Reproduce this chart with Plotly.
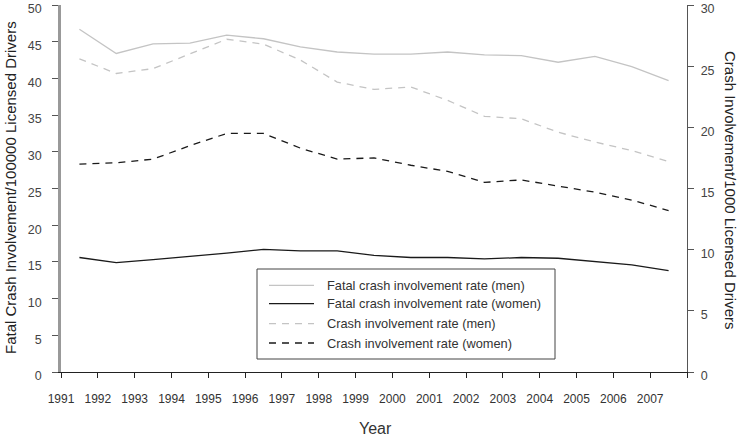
import plotly.graph_objects as go

years = [1991.5 + i for i in range(17)]
tick_years = list(range(1991, 2009))
tick_labels = [str(y) for y in range(1991, 2008)] + [""]

fatal_men = [46.7, 43.4, 44.7, 44.8, 45.9, 45.4, 44.3, 43.6, 43.3, 43.3, 43.6, 43.2, 43.1, 42.2, 43.0, 41.6, 39.7]
fatal_women = [15.6, 14.9, 15.3, 15.7, 16.2, 16.7, 16.5, 16.5, 15.9, 15.6, 15.6, 15.4, 15.6, 15.5, 15.1, 14.6, 13.8]
crash_men = [25.6, 24.4, 24.8, 26.0, 27.2, 26.8, 25.5, 23.7, 23.1, 23.3, 22.2, 20.9, 20.7, 19.6, 18.8, 18.1, 17.2]
crash_women = [17.0, 17.1, 17.4, 18.5, 19.5, 19.5, 18.3, 17.4, 17.5, 16.9, 16.4, 15.5, 15.7, 15.2, 14.7, 14.05, 13.2]

series_names = ["Fatal crash involvement rate (men)", "Fatal crash involvement rate (women)",
                "Crash involvement rate (men)", "Crash involvement rate (women)"]

FONT = "Liberation Sans"
LIGHT = "#c4c4c4"
DARK = "#1a1a1a"
DASH = "7px,6px"
styles = [dict(color=LIGHT, width=1.3), dict(color=DARK, width=1.3),
          dict(color=LIGHT, width=1.3, dash=DASH), dict(color=DARK, width=1.3, dash=DASH)]

W, H = 740, 437
L, R, T, B = 61, 53, 5, 65
PW, PH = W - L - R, H - T - B


def px_x(px):
    return (px - L) / PW


def px_y(py):
    return (H - B - py) / PH


fig = go.Figure()
for name, vals, st, ax in zip(series_names, [fatal_men, fatal_women, crash_men, crash_women],
                              styles, ["y", "y", "y2", "y2"]):
    fig.add_trace(go.Scatter(x=years, y=vals, mode="lines", name=name, line=st,
                             yaxis=ax, showlegend=False))

# custom legend box
shapes = [dict(type="rect", xref="paper", yref="paper",
               x0=px_x(257), x1=px_x(555), y0=px_y(359), y1=px_y(269),
               line=dict(color="#444", width=1), fillcolor="white", layer="above")]
annotations = []
rows = [285.3, 303.7, 323.7, 343]
for name, st, ry in zip(series_names, styles, rows):
    shapes.append(dict(type="line", xref="paper", yref="paper",
                       x0=px_x(269), x1=px_x(314), y0=px_y(ry), y1=px_y(ry),
                       line=st, layer="above"))
    annotations.append(dict(text=name, xref="paper", yref="paper", x=px_x(325), y=px_y(ry),
                            xanchor="left", yanchor="middle", showarrow=False,
                            font=dict(family=FONT, size=12.8, color="#333")))

# axis titles
annotations.append(dict(text="Fatal Crash Involvement/100000 Licensed Drivers", xref="paper", yref="paper",
                        x=px_x(10), y=px_y(188), textangle=-90, showarrow=False,
                        xanchor="center", yanchor="middle",
                        font=dict(family=FONT, size=15, color="#222")))
annotations.append(dict(text="Crash Involvement/1000 Licensed Drivers", xref="paper", yref="paper",
                        x=px_x(731), y=px_y(190), textangle=90, showarrow=False,
                        xanchor="center", yanchor="middle",
                        font=dict(family=FONT, size=15, color="#222")))
annotations.append(dict(text="Year", xref="paper", yref="paper",
                        x=px_x(375), y=px_y(428), showarrow=False,
                        xanchor="center", yanchor="middle",
                        font=dict(family=FONT, size=16, color="#333")))

fig.update_layout(
    width=W, height=H,
    margin=dict(l=L, r=R, t=T, b=B),
    plot_bgcolor="white", paper_bgcolor="white",
    font=dict(family=FONT, size=12, color="#333"),
    showlegend=False,
    shapes=shapes, annotations=annotations,
    xaxis=dict(range=[1991, 2008], tickmode="array", tickvals=tick_years, ticktext=tick_labels,
               showline=True, linecolor="#222", linewidth=1.3, ticks="outside", ticklen=5,
               tickcolor="#222", showgrid=False, zeroline=False, automargin=False,
               ticklabelstandoff=10, tickfont=dict(size=12, color="#333")),
    yaxis=dict(range=[0, 50], dtick=5, showline=True, linecolor="#999", linewidth=2.5,
               ticks="outside", ticklen=6, tickcolor="#555", showgrid=False, zeroline=False,
               automargin=False, ticklabelshift=4, ticklabelstandoff=8, ticklabeloverflow="allow",
               tickfont=dict(size=12.5, color="#444")),
    yaxis2=dict(range=[0, 30], dtick=5, overlaying="y", side="right", showline=True,
                linecolor="#555", linewidth=1.3, ticks="outside", ticklen=6, tickcolor="#555",
                showgrid=False, zeroline=False, automargin=False, ticklabelshift=4,
                ticklabelstandoff=4, ticklabeloverflow="allow",
                tickfont=dict(size=12.5, color="#444")),
)

fig.write_html("out.html", config={"displayModeBar": False},
               post_script="document.body.style.margin='0';document.body.style.padding='0';")
